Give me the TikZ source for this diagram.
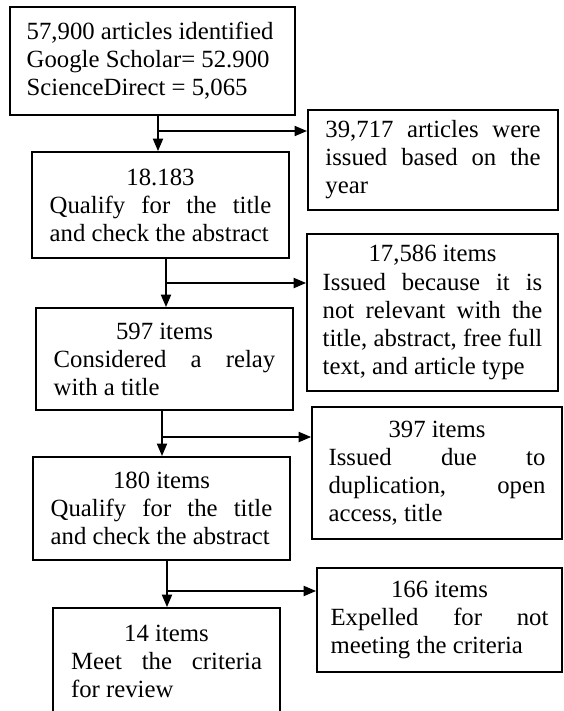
\documentclass[tikz,border=0pt]{standalone}
\usepackage{fontspec}
\setmainfont{Liberation Serif}
\usetikzlibrary{arrows.meta}
\newcommand{\numline}[1]{\makebox[\linewidth]{#1}}
\newcommand{\jline}[1]{\makebox[\linewidth][s]{\spaceskip=0pt\xspaceskip=0pt #1}}

\begin{document}
\begin{tikzpicture}[x=0.485pt, y=-0.485pt,
    box/.style={draw, line width=1pt, inner sep=0pt, align=justify,
        font=\fontsize{12}{13.6}\selectfont, text width=107.5pt,
        execute at begin node={\spaceskip=0pt\xspaceskip=0pt\hyphenpenalty=10000}},
    arr/.style={-{Triangle[length=6pt, width=5pt]}, line width=0.5pt}]
    \useasboundingbox (0,0) rectangle (564,711);

    \node[box, text width=122pt, minimum width=138.2pt, minimum height=52.4pt] (s1) at (152.5, 61)
        {57,900 articles identified\\ Google Scholar= 52.900\\ ScienceDirect = 5,065};
    \node[box, minimum width=124.6pt, minimum height=51.4pt] (s2) at (160.5, 205)
        {\numline{18.183}\\ \jline{Qualify for the title}\\ and check the abstract};
    \node[box, minimum width=124.6pt, minimum height=49.5pt] (s3) at (164.5, 359)
        {\numline{597 items}\\ \jline{Considered a relay}\\ with a title};
    \node[box, minimum width=124.6pt, minimum height=50pt] (s4) at (161.5, 508.5)
        {\numline{180 items}\\ \jline{Qualify for the title}\\ and check the abstract};
    \node[box, text width=92.6pt, minimum width=110.1pt, minimum height=51.4pt] (s5) at (166.5, 661)
        {\numline{14 items}\\ \jline{Meet the criteria}\\ for review};

    \node[box, text width=104.3pt, minimum width=121.3pt, minimum height=48.5pt] (x1) at (433, 160)
        {\jline{39,717 articles were}\\ \jline{issued based on the}\\ year};
    \node[box, text width=106.5pt, minimum width=121.7pt, minimum height=76.1pt] (x2) at (432.5, 312.5)
        {\numline{17,586 items}\\ \jline{Issued because it is}\\ \jline{not relevant with the}\\
         \jline{title, abstract, free full}\\ text, and article type};
    \node[box, text width=105.2pt, minimum width=121.2pt, minimum height=64pt] (x3) at (437, 473)
        {\numline{397 items}\\ \jline{Issued due to}\\ \jline{duplication, open}\\ access, title};
    \node[box, text width=105.7pt, minimum width=118.8pt, minimum height=50.4pt] (x4) at (439.5, 620)
        {\numline{166 items}\\ \jline{Expelled for not}\\ meeting the criteria};

    \coordinate (b1) at (158, 131);
    \coordinate (b2) at (166, 283);
    \coordinate (b3) at (162, 437);
    \coordinate (b4) at (167, 591);

    \draw[arr] (s1.south -| b1) -- (s2.north -| b1);
    \draw[arr] (b1) -- (b1 -| x1.west);
    \draw[arr] (s2.south -| b2) -- (s3.north -| b2);
    \draw[arr] (b2) -- (b2 -| x2.west);
    \draw[arr] (s3.south -| b3) -- (s4.north -| b3);
    \draw[arr] (b3) -- (b3 -| x3.west);
    \draw[arr] (s4.south -| b4) -- (s5.north -| b4);
    \draw[arr] (b4) -- (b4 -| x4.west);
\end{tikzpicture}
\end{document}
